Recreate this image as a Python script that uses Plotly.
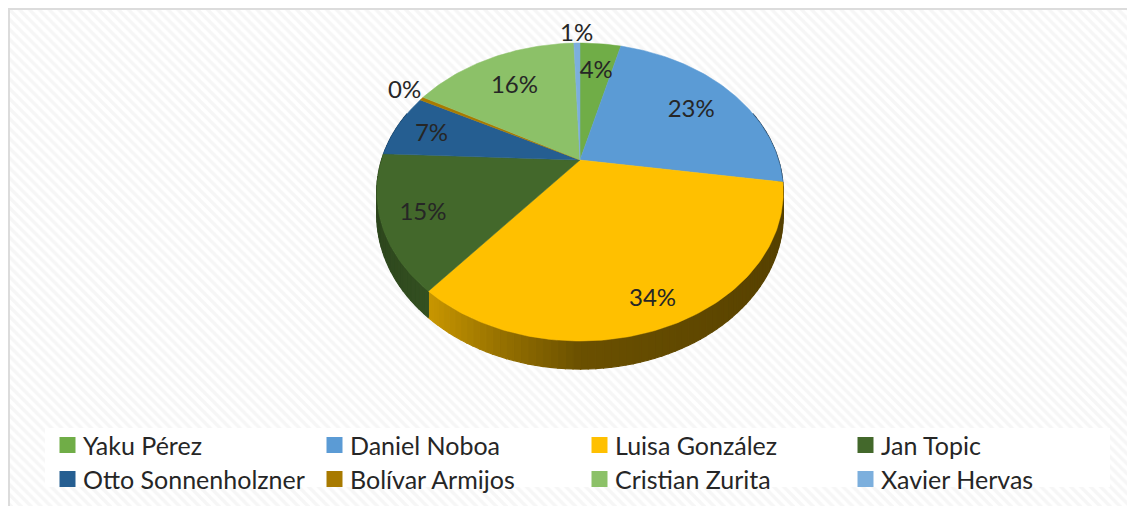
"""
Pastel 3D de resultados electorales (cara inclinada con perspectiva y pared lateral)
"""
import numpy as np
import plotly.graph_objects as go

CANDIDATES = ['Yaku Pérez', 'Daniel Noboa', 'Luisa González', 'Jan Topic',
              'Otto Sonnenholzner', 'Bolívar Armijos', 'Cristian Zurita', 'Xavier Hervas']
SHARES = [4.0, 23.4, 33.6, 14.7, 7.0, 0.4, 16.3, 0.6]
COLORS = ['#70AD47', '#5B9BD5', '#FFC000', '#43682B', '#255E91', '#A87A00', '#8CC168', '#7CAFDD']

# distancia de cada etiqueta al centro, en radios del pastel
LABEL_RADIUS = [0.76, 0.73, 0.85, 0.805, 0.81, 1.12, 0.715, 1.09]

WIDTH, HEIGHT = 1135, 506
PAGE_MARGIN = 8  # el body de la página deja 8 px arriba y a la izquierda
CX, CY = 580, 160
RX, RY, PERSP = 198.5, 142.1, 0.215
DEPTH = 22
LABEL_DROP = 4  # solo para las etiquetas dentro del pastel
TEXT = '#262626'
FONT = 'Lato'


def project(theta, r=1.0, drop=0.0):
    """Pasa un ángulo del pastel (horario desde arriba) a la vista con perspectiva"""
    u = r * np.sin(theta)
    v = r * np.cos(theta)
    w = 1 + PERSP * v
    return CX + RX * u / w, CY + (RY * -v + drop) / w


def shade(color, factor):
    """Oscurece un color hex"""
    rgb = [int(color[i:i + 2], 16) for i in (1, 3, 5)]
    return 'rgb({},{},{})'.format(*[int(c * factor) for c in rgb])


total = sum(SHARES)
edges = np.concatenate([[0], np.cumsum(SHARES)]) / total * 2 * np.pi

fig = go.Figure()

# fondo rayado
fig.add_trace(go.Bar(
    x=[(PAGE_MARGIN + WIDTH) / 2], y=[HEIGHT - PAGE_MARGIN], base=PAGE_MARGIN, width=WIDTH - PAGE_MARGIN,
    marker=dict(color='white', line_width=0,
                pattern=dict(shape='\\', size=7, solidity=0.5, fgcolor='#eeeeee', bgcolor='white')),
    hoverinfo='skip', showlegend=False
))

# caja blanca de la leyenda
fig.add_trace(go.Scatter(
    x=[45, 1110, 1110, 45, 45], y=[428, 428, 487, 487, 428],
    mode='lines', line_width=0, fill='toself', fillcolor='white',
    hoverinfo='skip', showlegend=False
))

# pared lateral: tiras estrechas con degradado de izquierda a derecha
for start, stop, color in zip(edges[:-1], edges[1:], COLORS):
    n = max(2, int((stop - start) / 0.03))
    angles = np.linspace(start, stop, n + 1)
    for a0, a1 in zip(angles[:-1], angles[1:]):
        mid = (a0 + a1) / 2
        if np.cos(mid) > 0.35:
            continue
        x0, y0 = project(a0)
        x1, y1 = project(a1)
        x2, y2 = project(a1, drop=DEPTH)
        x3, y3 = project(a0, drop=DEPTH)
        factor = np.interp(np.sin(mid), [-1, -0.62, -0.3, 0, 1], [0.66, 0.78, 0.58, 0.42, 0.33])
        fig.add_trace(go.Scatter(
            x=[x0, x1, x2, x3, x0], y=[y0, y1, y2, y3, y0],
            mode='lines', line=dict(width=1.2, color=shade(color, factor)),
            fill='toself', fillcolor=shade(color, factor),
            hoverinfo='skip', showlegend=False
        ))

# cara superior
for name, start, stop, color in zip(CANDIDATES, edges[:-1], edges[1:], COLORS):
    angles = np.linspace(start, stop, max(3, int((stop - start) * 60)))
    rim_x, rim_y = project(angles)
    fig.add_trace(go.Scatter(
        x=np.concatenate([[CX], rim_x, [CX]]), y=np.concatenate([[CY], rim_y, [CY]]),
        mode='lines', line=dict(width=0.5, color=color),
        fill='toself', fillcolor=color, name=name,
        hoverinfo='name', showlegend=False
    ))

# etiquetas de porcentaje
mids = (edges[:-1] + edges[1:]) / 2
radius = np.array(LABEL_RADIUS)
label_x, label_y = project(mids, radius)
fig.add_trace(go.Scatter(
    x=label_x, y=label_y + np.where(radius < 1, LABEL_DROP, 0), mode='text',
    text=[f'{s:.0f}%' for s in SHARES], textposition='middle center',
    textfont=dict(family=FONT, size=24, color=TEXT),
    hoverinfo='skip', showlegend=False
))

# leyenda a mano, en cuatro columnas
legend_x = [60, 327, 592, 858]
legend_y = [445, 479]
swatch_x = [legend_x[i % 4] + 7.5 for i in range(len(CANDIDATES))]
swatch_y = [legend_y[i // 4] for i in range(len(CANDIDATES))]
fig.add_trace(go.Scatter(
    x=swatch_x, y=swatch_y, mode='markers',
    marker=dict(symbol='square', size=16, color=COLORS, line_width=0),
    hoverinfo='skip', showlegend=False
))
annotations = [dict(
    x=sx + 13.5, y=sy, text=name, xref='x', yref='y', xanchor='left', yanchor='middle',
    showarrow=False, font=dict(family=FONT, size=25, color=TEXT)
) for name, sx, sy in zip(CANDIDATES, swatch_x, swatch_y)]

fig.update_layout(
    width=WIDTH - PAGE_MARGIN, height=HEIGHT - PAGE_MARGIN,
    margin=dict(l=0, r=0, t=0, b=0),
    paper_bgcolor='white', plot_bgcolor='white',
    xaxis=dict(range=[PAGE_MARGIN, WIDTH], visible=False, fixedrange=True),
    yaxis=dict(range=[HEIGHT, PAGE_MARGIN], visible=False, fixedrange=True),
    annotations=annotations,
    shapes=[
        dict(type='line', x0=9, x1=9, y0=8, y1=HEIGHT, line=dict(color='#dcdcdc', width=2)),
        dict(type='line', x0=8, x1=WIDTH, y0=9, y1=9, line=dict(color='#dcdcdc', width=2)),
    ]
)

fig.write_html("out.html")
